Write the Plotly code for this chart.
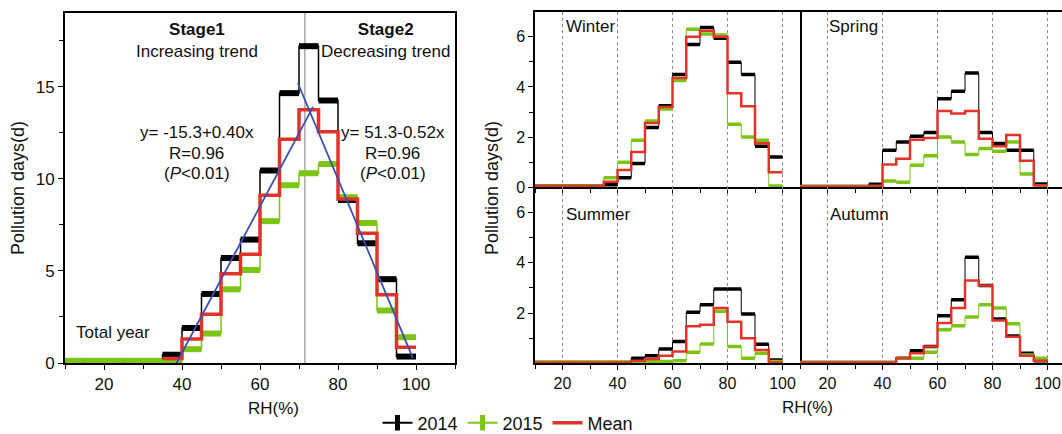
import plotly.graph_objects as go

# ---------------- data ----------------
bin_lo = [10, 15, 20, 25, 30, 35, 40, 45, 50, 55, 60, 65, 70, 75, 80, 85, 90, 95]
bin_w = 5

total_2014 = [0.05, 0.05, 0.05, 0.05, 0.05, 0.45, 1.9, 3.75, 5.7, 6.7, 10.45, 14.65, 17.2, 14.25, 8.85, 6.5, 4.55, 0.35]
total_2015 = [0.12, 0.12, 0.12, 0.12, 0.12, 0.05, 0.75, 1.6, 4.0, 5.05, 7.7, 9.65, 10.3, 10.8, 9.0, 7.6, 2.85, 1.4]
total_mean = [None, None, None, None, None, 0.25, 1.3, 2.65, 4.85, 5.9, 9.1, 12.15, 13.75, 12.55, 8.9, 7.05, 3.7, 0.85]

fit1_x = [38.6, 73.6]
fit1_y = [0.0, 13.9]
fit2_x = [69.7, 99.2]
fit2_y = [15.2, 0.27]

winter_2014 = [0.05, 0.05, 0.05, 0.05, 0.05, 0.1, 0.38, 0.95, 2.38, 3.25, 4.5, 5.69, 6.37, 5.94, 4.98, 4.5, 1.64, 1.21]
winter_2015 = [0.05, 0.05, 0.05, 0.05, 0.05, 0.38, 1.0, 1.88, 2.64, 3.12, 4.26, 6.3, 6.11, 6.07, 2.51, 2.01, 1.88, 0.05]
winter_mean = [0.05, 0.05, 0.05, 0.05, 0.05, 0.22, 0.69, 1.41, 2.56, 3.2, 4.36, 6.0, 6.24, 6.0, 3.75, 3.23, 1.76, 0.6]

spring_2014 = [0.03, 0.03, 0.03, 0.03, 0.03, 0.12, 1.48, 1.81, 2.04, 2.18, 3.53, 3.83, 4.56, 2.18, 1.75, 1.48, 1.48, 0.13]
spring_2015 = [0.03, 0.03, 0.03, 0.03, 0.03, 0.03, 0.25, 0.2, 0.88, 1.26, 2.01, 1.81, 1.31, 1.55, 1.44, 1.81, 0.53, 0.03]
spring_mean = [0.03, 0.03, 0.03, 0.03, 0.03, 0.05, 0.91, 1.14, 1.9, 1.97, 3.04, 2.94, 3.04, 1.94, 1.64, 2.08, 1.06, 0.08]

summer_2014 = [0.03, 0.03, 0.03, 0.03, 0.03, 0.03, 0.03, 0.2, 0.3, 0.57, 0.87, 2.03, 2.33, 2.96, 2.96, 1.96, 0.76, 0.13]
summer_2015 = [0.05, 0.05, 0.05, 0.05, 0.05, 0.05, 0.05, 0.05, 0.07, 0.07, 0.1, 0.44, 0.77, 2.07, 0.67, 0.2, 0.4, 0.07]
summer_mean = [0.03, 0.03, 0.03, 0.03, 0.03, 0.03, 0.03, 0.1, 0.17, 0.3, 0.47, 1.47, 1.53, 2.2, 1.65, 1.0, 0.53, 0.03]

autumn_2014 = [0.03, 0.03, 0.03, 0.03, 0.03, 0.03, 0.03, 0.2, 0.5, 0.67, 1.89, 2.53, 4.22, 3.09, 1.76, 1.09, 0.4, 0.1]
autumn_2015 = [0.03, 0.03, 0.03, 0.03, 0.03, 0.03, 0.03, 0.2, 0.2, 0.44, 1.33, 1.49, 1.84, 2.33, 2.2, 1.57, 0.33, 0.2]
autumn_mean = [0.03, 0.03, 0.03, 0.03, 0.03, 0.03, 0.03, 0.2, 0.4, 0.67, 1.6, 2.2, 3.29, 3.09, 1.7, 1.06, 0.3, 0.1]

series_names = ["2014", "2015", "Mean"]

# ---------------- styling ----------------
W, H = 1062, 434
C14 = "#000000"
C15 = "#7cc516"
CM = "#e2332a"
CFIT = "#3b4fae"
FONT = "Liberation Sans, Arial, sans-serif"


def fx(p):
    return p / W


def fy(p):
    return 1 - p / H


def step_xy(vals):
    xs = list(bin_lo) + [bin_lo[-1] + bin_w]
    ys = list(vals) + [vals[-1]]
    return xs, ys


def bar_xy(vals):
    xs, ys = [], []
    for lo, v in zip(bin_lo, vals):
        if v is None:
            continue
        xs += [lo, lo + bin_w, None]
        ys += [v, v, None]
    return xs, ys


fig = go.Figure()


def add_panel(xa, ya, v14, v15, vm, thin, bar, mw):
    for vals, col in ((v14, C14), (v15, C15)):
        sx, sy = step_xy(vals)
        fig.add_trace(go.Scatter(x=sx, y=sy, mode="lines", line=dict(color=col, width=thin, shape="hv"),
                                 xaxis=xa, yaxis=ya, showlegend=False, hoverinfo="skip"))
        bx, by = bar_xy(vals)
        fig.add_trace(go.Scatter(x=bx, y=by, mode="lines", line=dict(color=col, width=bar),
                                 xaxis=xa, yaxis=ya, showlegend=False, hoverinfo="skip"))
    sx, sy = step_xy(vm)
    fig.add_trace(go.Scatter(x=sx, y=sy, mode="lines", line=dict(color=CM, width=mw, shape="hv"),
                             xaxis=xa, yaxis=ya, showlegend=False, hoverinfo="skip", connectgaps=False))


add_panel("x", "y", total_2014, total_2015, total_mean, 1.5, 6, 3.5)
fig.add_trace(go.Scatter(x=fit1_x, y=fit1_y, mode="lines", line=dict(color=CFIT, width=1.8),
                         xaxis="x", yaxis="y", showlegend=False, hoverinfo="skip"))
fig.add_trace(go.Scatter(x=fit2_x, y=fit2_y, mode="lines", line=dict(color=CFIT, width=1.8),
                         xaxis="x", yaxis="y", showlegend=False, hoverinfo="skip"))

add_panel("x2", "y2", winter_2014, winter_2015, winter_mean, 1, 3.5, 2.5)
add_panel("x3", "y3", spring_2014, spring_2015, spring_mean, 1, 3.5, 2.5)
add_panel("x4", "y4", summer_2014, summer_2015, summer_mean, 1, 3.5, 2.5)
add_panel("x5", "y5", autumn_2014, autumn_2015, autumn_mean, 1, 3.5, 2.5)

# legend entries
fig.add_trace(go.Scatter(x=[None], y=[None], mode="lines+markers", name=series_names[0],
                         line=dict(color=C14, width=2),
                         marker=dict(symbol="line-ns", size=11, line=dict(color=C14, width=5)),
                         xaxis="x", yaxis="y"))
fig.add_trace(go.Scatter(x=[None], y=[None], mode="lines+markers", name=series_names[1],
                         line=dict(color=C15, width=2),
                         marker=dict(symbol="line-ns", size=11, line=dict(color=C15, width=5)),
                         xaxis="x", yaxis="y"))
fig.add_trace(go.Scatter(x=[None], y=[None], mode="lines", name=series_names[2],
                         line=dict(color=CM, width=3.5), xaxis="x", yaxis="y"))

# ---------------- axes ----------------
def xaxis(dom, rng, labels, lw, fs, grid, anchor, mirror=True):
    return dict(domain=[fx(dom[0]), fx(dom[1])], range=rng, anchor=anchor, automargin=False,
                showline=True, linecolor="black", linewidth=lw, mirror=mirror,
                ticks="outside", ticklen=5, tickwidth=1.2, tickcolor="black",
                tick0=0, dtick=20, showticklabels=labels, tickfont=dict(size=fs, color="#111"),
                minor=dict(ticks="outside", dtick=10, tick0=0, ticklen=4, tickwidth=1, tickcolor="black", showgrid=False),
                showgrid=grid, gridcolor="#8a8a8a", griddash="dot", gridwidth=1, zeroline=False)


def yaxis(dom, rng, tickvals, minorvals, lw, fs, labels, anchor, mirror=True, ticks="outside", line=True):
    return dict(domain=[fy(dom[1]), fy(dom[0])], range=rng, anchor=anchor, automargin=False,
                showline=line, linecolor="black", linewidth=lw, mirror=mirror,
                ticks=ticks, ticklen=5, tickwidth=1.2, tickcolor="black",
                tickmode="array", tickvals=tickvals, showticklabels=labels,
                tickfont=dict(size=fs, color="#111"),
                minor=dict(ticks=ticks, tickmode="array", tickvals=minorvals, ticklen=4, tickwidth=1, tickcolor="black", showgrid=False),
                showgrid=False, zeroline=False)


top_y = (11.7, 187.3)
bot_y = (187.3, 363.3)
colL = (535, 800)
colR = (800, 1062)
rngL = [10, 10 + (colL[1] - colL[0]) / 2.75]
rngR = [10, 10 + (colR[1] - colR[0]) / 2.75]

fig.update_layout(
    template="none",
    xaxis=xaxis((65, 455), [10, 110], True, 2, 17, False, "y"),
    yaxis=yaxis((13, 363), [0, 19], [0, 5, 10, 15], [2.5, 7.5, 12.5, 17.5], 2, 17, True, "x"),
    xaxis2=xaxis(colL, rngL, False, 1.5, 16, True, "y2"),
    yaxis2=yaxis(top_y, [0, 7], [0, 2, 4, 6], [1, 3, 5], 1.5, 16, True, "x2"),
    xaxis3=xaxis(colR, rngR, False, 1.5, 16, True, "y3"),
    yaxis3=yaxis(top_y, [0, 7], [0, 2, 4, 6], [1, 3, 5], 1.5, 16, False, "x3", mirror=False, ticks="", line=False),
    xaxis4=xaxis(colL, rngL, True, 1.5, 16, True, "y4", mirror=False),
    yaxis4=yaxis(bot_y, [0, 7], [2, 4, 6], [1, 3, 5], 1.5, 16, True, "x4"),
    xaxis5=xaxis(colR, rngR, True, 1.5, 16, True, "y5", mirror=False),
    yaxis5=yaxis(bot_y, [0, 7], [2, 4, 6], [1, 3, 5], 1.5, 16, False, "x5", mirror=False, ticks="", line=False),
)

fig.add_shape(type="line", xref="x", yref="y", x0=71.5, x1=71.5, y0=0, y1=19,
              line=dict(color="#a8a8a8", width=1.5), layer="below")

ann = []


def A(text, x, y, xref="x", yref="y", size=17, xanchor="center", angle=0):
    ann.append(dict(text=text, x=x, y=y, xref=xref, yref=yref, showarrow=False,
                    xanchor=xanchor, yanchor="middle", textangle=angle,
                    font=dict(size=size, color="#111", family=FONT)))


A("<b>Stage1</b><br>Increasing trend", 43.8, 17.5)
A("<b>Stage2</b><br>Decreasing trend", 92.3, 17.5)
A("y= -15.3+0.40x", 43.8, 12.5)
A("R=0.96", 43.8, 11.4)
A("(<i>P</i>&lt;0.01)", 43.8, 10.3)
A("y= 51.3-0.52x", 94.1, 12.5)
A("R=0.96", 94.1, 11.4)
A("(<i>P</i>&lt;0.01)", 94.1, 10.3)
A("Total year", 22.3, 1.63)
A("Winter", 20.5, 6.43, "x2", "y2", xanchor="left")
A("Spring", 19.9, 6.43, "x3", "y3", xanchor="left")
A("Summer", 20.5, 5.9, "x4", "y4", xanchor="left")
A("Autumn", 20.3, 5.9, "x5", "y5", xanchor="left")
A("Pollution days(d)", fx(18), fy(188), "paper", "paper", size=18, angle=-90)
A("Pollution days(d)", fx(492), fy(188), "paper", "paper", size=18, angle=-90)
A("RH(%)", fx(273), fy(408), "paper", "paper", size=17)
A("RH(%)", fx(807), fy(407), "paper", "paper", size=17)

fig.update_layout(
    annotations=ann,
    width=W, height=H,
    margin=dict(l=0, r=0, t=0, b=0, pad=0, autoexpand=False),
    paper_bgcolor="white", plot_bgcolor="white",
    font=dict(family=FONT, size=17, color="#111"),
    showlegend=True,
    legend=dict(orientation="h", x=fx(508), xanchor="center",
                y=fy(423), yanchor="middle",
                font=dict(size=18, color="#111"), bgcolor="rgba(0,0,0,0)",
                borderwidth=0, itemwidth=30, tracegroupgap=0),
)

fig.write_html("out.html")
